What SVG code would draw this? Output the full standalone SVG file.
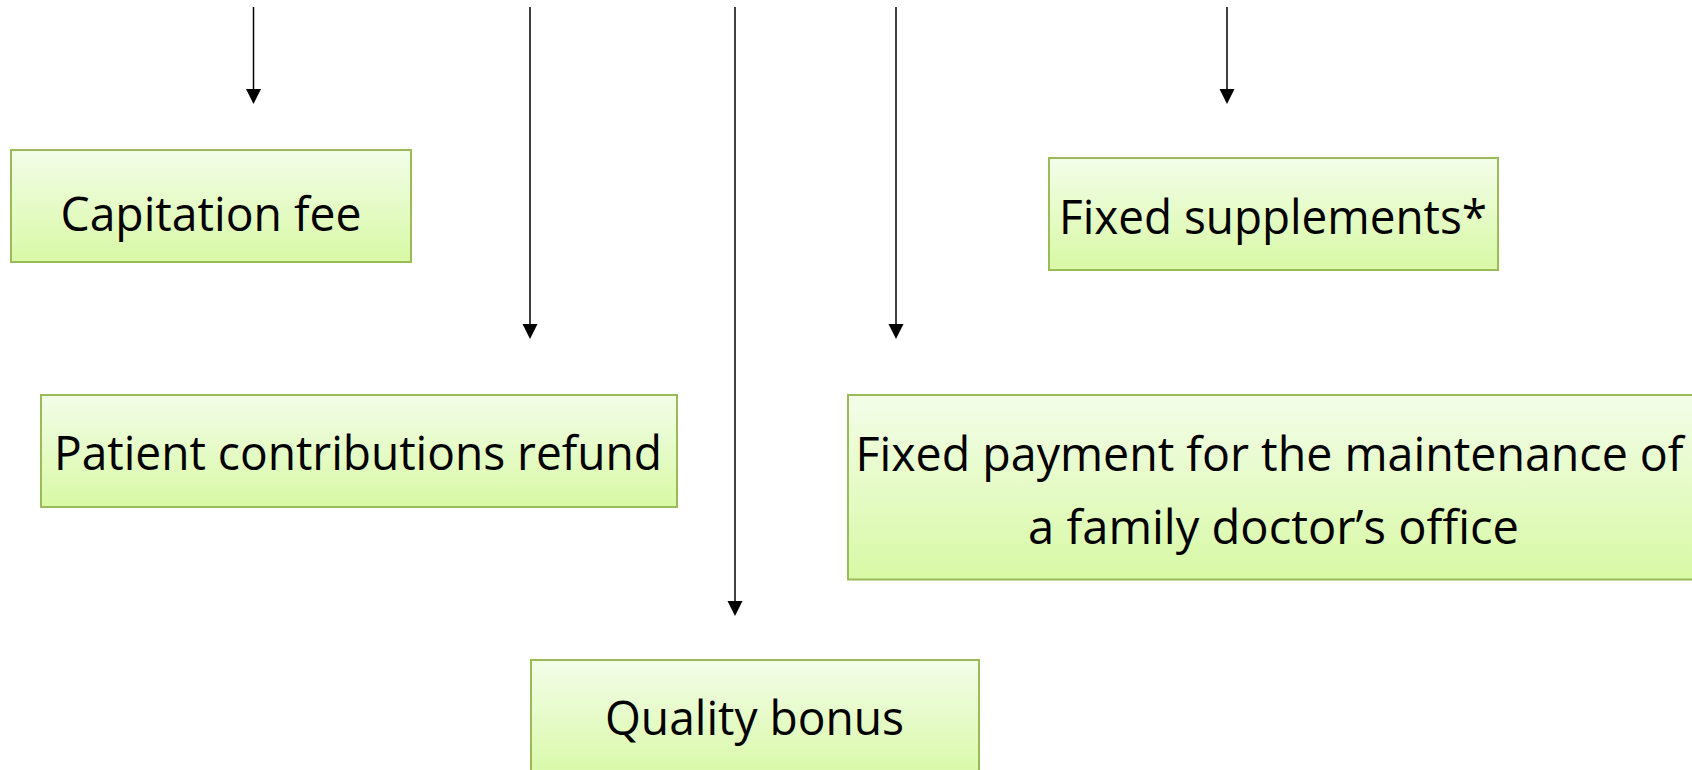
<svg xmlns="http://www.w3.org/2000/svg" width="1692" height="770" viewBox="0 0 1692 770">
  <defs>
    <linearGradient id="g" x1="0" y1="0" x2="0" y2="1">
      <stop offset="0" stop-color="#f3fde9"/>
      <stop offset="1" stop-color="#d8f9a5"/>
    </linearGradient>
    <marker id="ah" markerUnits="userSpaceOnUse" markerWidth="16" markerHeight="16" refX="1" refY="7.5" orient="auto">
      <path d="M0,0 L15,7.5 L0,15 z" fill="#000"/>
    </marker>
  </defs>
  <style>
    .box { fill: url(#g); stroke: #9bbb59; stroke-width: 2; }
    .lbl { font-family: "Open Sans", "Noto Sans", sans-serif; font-size: 48px; fill: #000; text-anchor: middle; }
    .con { stroke: #000; stroke-width: 1.5; fill: none; marker-end: url(#ah); }
  </style>
  <rect width="1692" height="770" fill="#fff"/>
  <g id="connectors">
    <line class="con" x1="253.5" y1="7" x2="253.5" y2="90"/>
    <line class="con" x1="530" y1="7" x2="530" y2="325"/>
    <line class="con" x1="735" y1="7" x2="735" y2="602"/>
    <line class="con" x1="896" y1="7" x2="896" y2="325"/>
    <line class="con" x1="1227" y1="7" x2="1227" y2="90"/>
  </g>
  <g id="capitation">
    <rect class="box" x="11" y="150" width="400" height="112"/>
    <text class="lbl" x="211" y="231" textLength="301" lengthAdjust="spacingAndGlyphs">Capitation fee</text>
  </g>
  <g id="supplements">
    <rect class="box" x="1049" y="158" width="449" height="112"/>
    <text class="lbl" x="1273" y="234" textLength="428" lengthAdjust="spacingAndGlyphs">Fixed supplements*</text>
  </g>
  <g id="refund">
    <rect class="box" x="41" y="395" width="636" height="112"/>
    <text class="lbl" x="358" y="470" textLength="608" lengthAdjust="spacingAndGlyphs">Patient contributions refund</text>
  </g>
  <g id="maintenance">
    <rect class="box" x="848" y="395" width="850" height="184.5"/>
    <text class="lbl" x="1269.5" y="471" textLength="828" lengthAdjust="spacingAndGlyphs">Fixed payment for the maintenance of</text>
    <text class="lbl" x="1273.5" y="544" textLength="491" lengthAdjust="spacingAndGlyphs">a family doctor’s office</text>
  </g>
  <g id="quality">
    <rect class="box" x="531" y="660" width="448" height="120"/>
    <text class="lbl" x="754.5" y="735" textLength="299" lengthAdjust="spacingAndGlyphs">Quality bonus</text>
  </g>
</svg>
